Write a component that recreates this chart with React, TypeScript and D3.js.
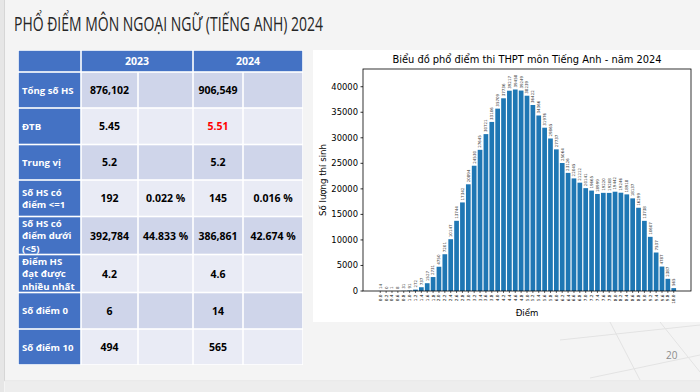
import React from 'react';
import * as d3 from 'd3';

// 2024 score distribution (Tiếng Anh)
const scores = [
  '0.0', '0.2', '0.4', '0.6', '0.8', '1.0', '1.2', '1.4', '1.6', '1.8',
  '2.0', '2.2', '2.4', '2.6', '2.8', '3.0', '3.2', '3.4', '3.6', '3.8',
  '4.0', '4.2', '4.4', '4.6', '4.8', '5.0', '5.2', '5.4', '5.6', '5.8',
  '6.0', '6.2', '6.4', '6.6', '6.8', '7.0', '7.2', '7.4', '7.6', '7.8',
  '8.0', '8.2', '8.4', '8.6', '8.8', '9.0', '9.2', '9.4', '9.6', '9.8', '10.0',
];
const counts = [
  14, 0, 1, 8, 31, 91, 272, 737, 1527, 2731,
  4750, 7201, 10147, 13744, 17342, 20894, 24530, 27645, 30721, 33106,
  35709, 37736, 39217, 39458, 39249, 38239, 36422, 34366, 31976, 29865,
  27737, 25064, 23126, 22045, 21212, 20141, 19665, 18999, 19220, 19208,
  19442, 19246, 18918, 18137, 16299, 13738, 10607, 7537, 4787, 2387, 565,
];
const yTicks = [0, 5000, 10000, 15000, 20000, 25000, 30000, 35000, 40000];

// comparison table
const yearHeaders = ['2023', '2024'];
const rowLabels = [
  ['Tổng số HS'],
  ['ĐTB'],
  ['Trung vị'],
  ['Số HS có', 'điểm <=1'],
  ['Số HS có', 'điểm dưới', '(<5)'],
  ['Điểm HS', 'đạt được', 'nhiều nhất'],
  ['Số điểm 0'],
  ['Số điểm 10'],
];
const rowValues = [
  ['876,102', '', '906,549', ''],
  ['5.45', '', '5.51', ''],
  ['5.2', '', '5.2', ''],
  ['192', '0.022 %', '145', '0.016 %'],
  ['392,784', '44.833 %', '386,861', '42.674 %'],
  ['4.2', '', '4.6', ''],
  ['6', '', '14', ''],
  ['494', '', '565', ''],
];

const W = 700;
const H = 392;
const BLUE = '#4472c4';
const BAR = '#1f77b4';
const tableFont = '"Open Sans", "Noto Sans", sans-serif';
const mplFont = '"DejaVu Sans", sans-serif';

const colX = [18, 81, 138, 193, 243, 303];
const rowY = [50, 72, 108, 144.5, 180, 216.5, 254.5, 292.5, 329, 365];

const Table: React.FC = () => {
  const cells: React.ReactNode[] = [];
  const g = 0.8;
  // header
  cells.push(
    <rect key="h0" x={colX[0] + g} y={rowY[0] + g} width={colX[1] - colX[0] - 2 * g} height={rowY[1] - rowY[0] - 2 * g} fill={BLUE} />
  );
  yearHeaders.forEach((yr, k) => {
    const x0 = colX[1 + k * 2];
    const x1 = colX[3 + k * 2];
    cells.push(
      <g key={'h' + yr}>
        <rect x={x0 + g} y={rowY[0] + g} width={x1 - x0 - 2 * g} height={rowY[1] - rowY[0] - 2 * g} fill={BLUE} />
        <text x={(x0 + x1) / 2} y={(rowY[0] + rowY[1]) / 2 + 4} textAnchor="middle" fill="#fff" fontWeight="bold" fontSize={10.5} fontFamily={tableFont}>
          {yr}
        </text>
      </g>
    );
  });
  rowLabels.forEach((lines, r) => {
    const y0 = rowY[r + 1];
    const y1 = rowY[r + 2];
    const cy = (y0 + y1) / 2;
    const fill = r % 2 === 0 ? '#cfd5ea' : '#e9ebf5';
    const lh = 12.6;
    cells.push(
      <g key={'r' + r}>
        <rect x={colX[0] + g} y={y0 + g} width={colX[1] - colX[0] - 2 * g} height={y1 - y0 - 2 * g} fill={BLUE} />
        <text x={22} fill="#fff" fontWeight="bold" fontSize={9.6} fontFamily={tableFont}>
          {lines.map((l, i) => (
            <tspan key={i} x={22} y={cy + 3.6 + (i - (lines.length - 1) / 2) * lh}>
              {l}
            </tspan>
          ))}
        </text>
        {rowValues[r].map((v, c) => (
          <g key={c}>
            <rect x={colX[c + 1] + g} y={y0 + g} width={colX[c + 2] - colX[c + 1] - 2 * g} height={y1 - y0 - 2 * g} fill={fill} />
            <text
              x={(colX[c + 1] + colX[c + 2]) / 2}
              y={cy + 4}
              textAnchor="middle"
              fontWeight="bold"
              fontSize={10.5}
              fontFamily={tableFont}
              fill={r === 1 && c === 2 ? '#ff0000' : '#000'}
            >
              {v}
            </text>
          </g>
        ))}
      </g>
    );
  });
  return (
    <g>
      <rect x={colX[0]} y={rowY[0]} width={colX[5] - colX[0]} height={rowY[9] - rowY[0]} fill="#fff" />
      {cells}
    </g>
  );
};

const Chart: React.FC = () => {
  const left = 363;
  const right = 691;
  const top = 69;
  const bottom = 291;
  const n = counts.length;
  const pad = 0.05 * (n - 1 + 0.8);
  const x = d3.scaleLinear().domain([-0.4 - pad, n - 1 + 0.4 + pad]).range([left, right]);
  const y = d3.scaleLinear().domain([0, 43470]).range([bottom, top]);
  const bw = x(0.8) - x(0);

  return (
    <g>
      <rect x={313} y={50} width={387} height={272} fill="#fff" />
      <text x={(left + right) / 2} y={63} textAnchor="middle" fontSize={9.9} fontFamily={mplFont} fill="#000">
        Biểu đồ phổ điểm thi THPT môn Tiếng Anh - năm 2024
      </text>
      {counts.map((v, i) => (
        <rect key={i} x={x(i) - bw / 2} y={y(v)} width={bw} height={bottom - y(v)} fill={BAR} />
      ))}
      {counts.map((v, i) => (
        <text
          key={'l' + i}
          transform={`translate(${x(i) + 1.4},${y(v) - 2}) rotate(-90)`}
          fontSize={4}
          fontFamily={mplFont}
          fill="#333"
        >
          {v}
        </text>
      ))}
      {/* spines */}
      <rect x={left} y={top} width={right - left} height={bottom - top} fill="none" stroke="#000" strokeWidth={0.8} />
      {yTicks.map((t) => (
        <g key={t}>
          <line x1={left - 2.5} x2={left} y1={y(t)} y2={y(t)} stroke="#000" strokeWidth={0.8} />
          <text x={left - 5} y={y(t) + 3} textAnchor="end" fontSize={8.4} fontFamily={mplFont} fill="#000">
            {t}
          </text>
        </g>
      ))}
      {scores.map((s, i) => (
        <g key={s}>
          <line x1={x(i)} x2={x(i)} y1={bottom} y2={bottom + 2} stroke="#000" strokeWidth={0.6} />
          <text
            transform={`translate(${x(i) + 1.5},${bottom + 3.5}) rotate(-90)`}
            textAnchor="end"
            fontSize={4.2}
            fontFamily={mplFont}
            fill="#000"
          >
            {s}
          </text>
        </g>
      ))}
      <text x={(left + right) / 2} y={316} textAnchor="middle" fontSize={8.6} fontFamily={mplFont} fill="#000">
        Điểm
      </text>
      <text
        transform={`translate(326,${(top + bottom) / 2}) rotate(-90)`}
        textAnchor="middle"
        fontSize={8.6}
        fontFamily={mplFont}
        fill="#000"
      >
        Số lượng thí sinh
      </text>
    </g>
  );
};

const App: React.FC = () => {
  return (
    <div style={{ position: 'fixed', left: 0, top: 0, width: W, height: H }}>
      <svg width={W} height={H} style={{ display: 'block' }}>
        <rect x={0} y={0} width={W} height={H} fill="#f4f4f4" />
        <rect x={0} y={0} width={4} height={H} fill="#e6e6e6" />
        <line x1={4.5} x2={4.5} y1={0} y2={381} stroke="#d6d6d6" strokeWidth={1} />
        <line x1={4.5} x2={W} y1={381} y2={381} stroke="#e0e0e0" strokeWidth={1} />
        <rect x={5} y={381.5} width={W - 5} height={H - 381.5} fill="#ededed" />
        {/* faint floor lines */}
        <g stroke="#e3e3e3" strokeWidth={1} fill="none">
          <line x1={560} y1={340} x2={700} y2={325} />
          <line x1={590} y1={378} x2={700} y2={355} />
          <line x1={610} y1={322} x2={640} y2={380} />
          <line x1={660} y1={322} x2={700} y2={372} />
        </g>
        <text x={14} y={31} fontSize={20} fontFamily={'"Liberation Sans Narrow", "Open Sans", sans-serif'} fill="#262626" textLength={309} lengthAdjust="spacingAndGlyphs">
          PHỔ ĐIỂM MÔN NGOẠI NGỮ (TIẾNG ANH) 2024
        </text>
        <Table />
        <Chart />
        <text x={666} y={359} fontSize={10} fontFamily={'"Open Sans", sans-serif'} fill="#8c8c8c">
          20
        </text>
      </svg>
    </div>
  );
};

export default App;
